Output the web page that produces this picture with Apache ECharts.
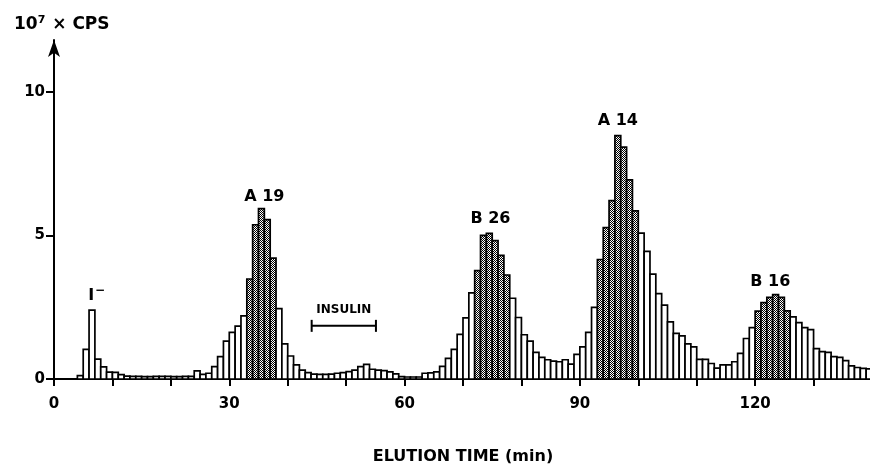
<!DOCTYPE html>
<html>
<head>
<meta charset="utf-8">
<script src="https://cdn.jsdelivr.net/npm/echarts@6/dist/echarts.min.js"></script>
<style>html,body{margin:0;padding:0;background:#fff}#c{width:870px;height:466px}</style>
</head>
<body>
<div id="c"></div>
<script>
// ---- data ----
const firstMinute = 4;
// counts (10^7 CPS) per 1-min fraction, minutes 4..139
const cps = [
  0.12, 1.03, 2.40, 0.69, 0.42, 0.24, 0.23, 0.15, 0.10,
  0.09, 0.09, 0.08, 0.08, 0.09, 0.09, 0.09, 0.08, 0.08, 0.09, 0.09,
  0.28, 0.16, 0.20, 0.43, 0.78, 1.32, 1.62, 1.84, 2.20,
  3.48, 5.37, 5.93, 5.55, 4.21,
  2.45, 1.22, 0.80, 0.49, 0.31, 0.22, 0.17, 0.16, 0.16, 0.17,
  0.20, 0.22, 0.26, 0.31, 0.43, 0.51, 0.34, 0.31, 0.29, 0.25,
  0.18, 0.08, 0.07, 0.07, 0.07, 0.20, 0.21, 0.25, 0.44, 0.72,
  1.03, 1.55, 2.13, 3.00,
  3.77, 5.00, 5.07, 4.82, 4.30, 3.62,
  2.81, 2.14, 1.54, 1.32, 0.93, 0.75, 0.67, 0.62, 0.60, 0.67,
  0.52, 0.86, 1.12, 1.62, 2.49,
  4.16, 5.27, 6.21, 8.47, 8.07, 6.93, 5.85,
  5.08, 4.44, 3.65, 2.97, 2.57, 1.99, 1.59, 1.50, 1.22, 1.12,
  0.68, 0.68, 0.54, 0.38, 0.49, 0.49, 0.60, 0.89, 1.41, 1.79,
  2.36, 2.66, 2.84, 2.94, 2.84, 2.37,
  2.16, 1.96, 1.79, 1.72, 1.06, 0.95, 0.93, 0.78, 0.75, 0.64,
  0.46, 0.40, 0.37, 0.35
];
// fractions pooled as the named peaks (shaded bars), [first, last] minute
const peakRuns = [[33, 37], [72, 77], [93, 99], [120, 125]];
const xTickValues = [0, 10, 20, 30, 40, 50, 60, 70, 80, 90, 100, 110, 120, 130, 140];
const xTickLabels = [0, 30, 60, 90, 120];
const yTickLabels = [0, 5, 10];
const peakNames = ['I−', 'A 19', 'B 26', 'A 14', 'B 16'];
const peakNameX = [7.3, 36.0, 74.7, 96.5, 122.6];
const peakNameY = [2.88, 6.35, 5.59, 9.0, 3.39];
const insulinName = 'INSULIN';
const insulinRange = [44.1, 55.1];
const insulinLevel = 1.85;
const insulinNamePos = [49.6, 2.42];

// ---- build ----
const pc = document.createElement('canvas');
pc.width = 2; pc.height = 2;
const pctx = pc.getContext('2d');
pctx.fillStyle = '#ffffff'; pctx.fillRect(0, 0, 2, 2);
pctx.fillStyle = '#000000'; pctx.fillRect(0, 0, 1, 1); pctx.fillRect(1, 1, 1, 1);
const shade = { image: pc, repeat: 'repeat' };

function isPeak(m) { return peakRuns.some(r => m >= r[0] && m <= r[1]); }
const barData = cps.map((v, i) => [firstMinute + i, v, isPeak(firstMinute + i) ? 1 : 0]);

const FONT = 'DejaVu Sans';
const chart = echarts.init(document.getElementById('c'), null, { renderer: 'canvas' });
chart.setOption({
  animation: false,
  backgroundColor: '#fff',
  title: {
    text: '10{sup|7} × CPS',
    left: 9, top: 10,
    textStyle: {
      fontFamily: FONT, fontSize: 17, fontWeight: 'bold', color: '#000',
      rich: { sup: { fontFamily: FONT, fontSize: 11, fontWeight: 'bold', color: '#000', verticalAlign: 'top', padding: [0, 1, 8, 0] } }
    }
  },
  grid: { left: 54, top: 40, width: 818, height: 339, outerBoundsMode: 'none', containLabel: false },
  xAxis: {
    type: 'value', min: 0, max: 140,
    name: 'ELUTION TIME (min)', nameLocation: 'middle', nameGap: 70,
    nameTextStyle: { fontFamily: FONT, fontSize: 16, fontWeight: 'bold', color: '#000' },
    axisLine: { show: true, lineStyle: { color: '#000', width: 2 } },
    axisTick: { show: true, length: 7, lineStyle: { color: '#000', width: 2 }, customValues: xTickValues },
    axisLabel: { fontFamily: FONT, fontSize: 15, fontWeight: 'bold', color: '#000', margin: 18, customValues: xTickLabels },
    splitLine: { show: false }
  },
  yAxis: {
    type: 'value', min: 0, max: 11.8,
    axisLine: { show: true, symbol: ['none', 'arrow'], symbolSize: [9, 17], lineStyle: { color: '#000', width: 2 } },
    axisTick: { show: true, length: 8, lineStyle: { color: '#000', width: 2 }, customValues: yTickLabels },
    axisLabel: { fontFamily: FONT, fontSize: 15, fontWeight: 'bold', color: '#000', margin: 9, customValues: yTickLabels },
    splitLine: { show: false }
  },
  series: [
    {
      type: 'custom',
      data: barData,
      clip: false,
      renderItem: function (params, api) {
        const m = api.value(0), v = api.value(1), dark = api.value(2);
        const p0 = api.coord([m, v]);
        const p1 = api.coord([m + 1, 0]);
        return {
          type: 'rect',
          shape: { x: p0[0], y: p0[1], width: p1[0] - p0[0], height: p1[1] - p0[1] },
          style: { fill: dark ? shade : '#ffffff', stroke: '#000', lineWidth: 1.7 }
        };
      },
      z: 2
    },
    {
      type: 'line',
      data: [[insulinRange[0], insulinLevel], [insulinRange[1], insulinLevel]],
      symbol: 'rect', symbolSize: [2, 12], showSymbol: true,
      itemStyle: { color: '#000' },
      lineStyle: { color: '#000', width: 2 },
      z: 3
    },
    {
      type: 'scatter',
      symbolSize: 0,
      itemStyle: { opacity: 1, color: '#000' },
      data: peakNames.map((n, i) => ({ name: n, value: [peakNameX[i], peakNameY[i]] }))
        .concat([{ name: insulinName, value: insulinNamePos, label: { fontSize: 12 } }]),
      label: {
        show: true, position: 'inside',
        fontFamily: FONT, fontSize: 16, fontWeight: 'bold', color: '#000', opacity: 1,
        formatter: function (p) { return p.name === 'I−' ? 'I{sup|−}' : p.name; },
        rich: { sup: { fontFamily: FONT, fontSize: 12, fontWeight: 'bold', color: '#000', verticalAlign: 'top', padding: [0, 0, 10, 1] } }
      },
      emphasis: { disabled: true },
      z: 4
    }
  ]
});
</script>
</body>
</html>
